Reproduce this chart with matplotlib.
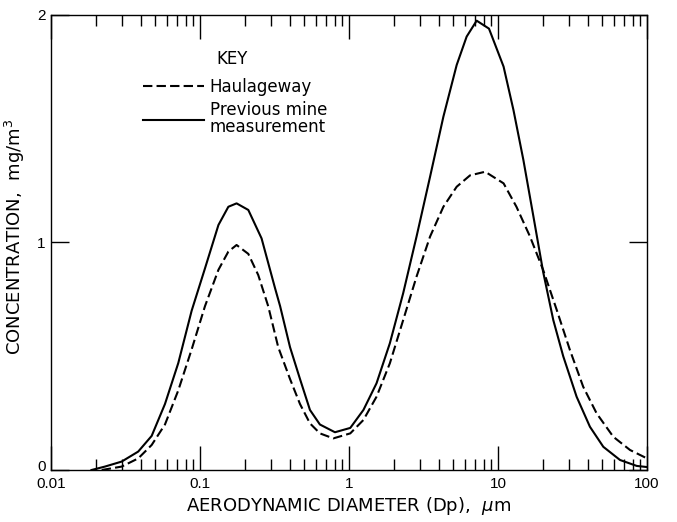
import matplotlib
matplotlib.use("Agg")
import matplotlib.pyplot as plt
from matplotlib.ticker import LogLocator, NullFormatter, FixedLocator
from matplotlib.transforms import ScaledTranslation

# values
# diameter (um) and concentration (mg/m3), previous mine measurement
prev_dp = [0.0187, 0.023, 0.0298, 0.0385, 0.0474, 0.0582, 0.0715, 0.0879, 0.108,
           0.133, 0.155, 0.176, 0.211, 0.259, 0.319, 0.345, 0.402, 0.469, 0.547,
           0.638, 0.805, 1.02, 1.25, 1.53, 1.88, 2.31, 2.84, 3.50, 4.30, 5.28,
           6.16, 7.19, 8.7, 10.9, 12.7, 14.8, 17.3, 20.1, 23.5, 27.4, 33.7, 41.4,
           50.9, 65.9, 85.3, 100]
prev_conc = [0.0, 0.015, 0.037, 0.081, 0.15, 0.29, 0.47, 0.70, 0.886,
             1.077, 1.157, 1.172, 1.143, 1.018, 0.799, 0.72, 0.54, 0.40, 0.264,
             0.20, 0.166, 0.185, 0.264, 0.381, 0.557, 0.777, 1.026, 1.289, 1.553, 1.78,
             1.905, 1.975, 1.94, 1.773, 1.582, 1.363, 1.113, 0.87, 0.659, 0.50, 0.322, 0.190,
             0.102, 0.044, 0.018, 0.013]

# haulageway
haul_dp = [0.0219, 0.0298, 0.0385, 0.0474, 0.0582, 0.0715, 0.0879, 0.108, 0.133,
           0.155, 0.176, 0.211, 0.246, 0.287, 0.335, 0.402, 0.469, 0.547, 0.638,
           0.785, 1.02, 1.25, 1.53, 1.88, 2.31, 2.84, 3.50, 4.30, 5.28, 6.49,
           8.2, 10.9, 13.3, 16.4, 20.1, 24.8, 30.4, 37.3, 45.9, 59.4, 76.9, 100]
haul_conc = [0.0, 0.015, 0.051, 0.11, 0.20, 0.35, 0.53, 0.72, 0.88,
             0.96, 0.989, 0.95, 0.857, 0.72, 0.54, 0.40, 0.29, 0.205, 0.161,
             0.139, 0.161, 0.220, 0.322, 0.469, 0.659, 0.850, 1.026, 1.157, 1.245, 1.295,
             1.311, 1.26, 1.157, 1.026, 0.879, 0.703, 0.527, 0.366, 0.249, 0.146, 0.088, 0.051]

x_ticks = [0.01, 0.1, 1, 10, 100]
x_ticklabels = ['0.01', '0.1', '1', '10', '100']
y_ticks = [0, 1, 2]

plt.rcParams['font.family'] = ['Liberation Sans', 'DejaVu Sans']

fig = plt.figure(figsize=(6.77, 5.22), dpi=100)
ax = fig.add_axes([0.0753, 0.0996, 0.8804, 0.8717])

ax.plot(haul_dp, haul_conc, color='black', linestyle=(0, (4.5, 2)), linewidth=1.5,
        label='Haulageway')
ax.plot(prev_dp, prev_conc, color='black', linewidth=1.5,
        label='Previous mine\nmeasurement')

ax.set_xscale('log')
ax.set_xlim(0.01, 100)
ax.set_ylim(0, 2)

ax.set_xticks(x_ticks)
ax.set_xticklabels(x_ticklabels)
ax.xaxis.set_minor_locator(LogLocator(base=10, subs=range(2, 10)))
ax.xaxis.set_minor_formatter(NullFormatter())
ax.set_yticks(y_ticks)
ax.yaxis.set_minor_locator(FixedLocator([]))

ax.tick_params(axis='x', which='major', direction='in', length=17, width=1,
               top=True, labelsize=11, pad=5)
ax.tick_params(axis='x', which='minor', direction='in', length=8, width=1, top=True)
ax.tick_params(axis='y', which='major', direction='in', length=13, width=1,
               right=True, labelsize=11, pad=4)

# nudge the "0" label up a little so it clears "0.01"
lbl0 = ax.get_yticklabels()[0]
lbl0.set_transform(lbl0.get_transform() + ScaledTranslation(0, 3 / 72, fig.dpi_scale_trans))

for s in ax.spines.values():
    s.set_linewidth(1.0)

ax.set_xlabel('AERODYNAMIC DIAMETER (Dp),  $\\mu$m', fontsize=13, labelpad=3,
              family='DejaVu Sans')
ax.set_ylabel('CONCENTRATION,  mg/m$^3$', fontsize=13,
              family='DejaVu Sans')
ax.yaxis.set_label_coords(-0.04, 0.512)

ax.text(0.304, 0.903, 'KEY', transform=ax.transAxes, ha='center', va='center',
        fontsize=12, family='DejaVu Sans')
leg = ax.legend(loc='upper left', bbox_to_anchor=(0.154, 0.862), frameon=False,
                prop={'family': 'DejaVu Sans', 'size': 12},
                handlelength=3.66, handletextpad=0.36, labelspacing=0.3,
                borderpad=0, borderaxespad=0)
for t in leg.get_texts():
    t.set_linespacing(0.95)

fig.savefig('out.png', dpi=100)
